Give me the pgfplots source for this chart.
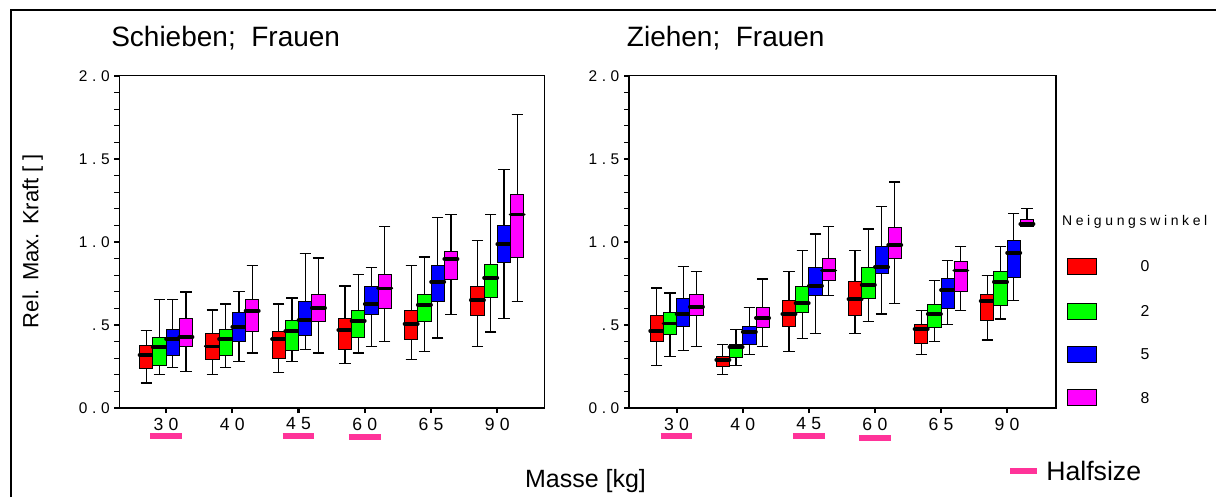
\documentclass[border=0pt]{standalone}
\usepackage{fontspec}
\setmainfont{Liberation Sans}
\newfontfamily\spfont[LetterSpace=30]{Liberation Sans}
\newfontfamily\lgfont[LetterSpace=26]{Liberation Sans}
\usepackage{pgfplots}
\usepackage{pgfplotstable}
\pgfplotsset{compat=1.18}
\usepgfplotslibrary{statistics}

\definecolor{cred}{RGB}{255,0,0}
\definecolor{cgreen}{RGB}{0,255,0}
\definecolor{cblue}{RGB}{0,0,255}
\definecolor{cmag}{RGB}{255,0,255}
\definecolor{hpink}{RGB}{255,51,153}

% ---------- Schieben; Frauen ----------
\pgfplotstableread{
lw lq med uq uw
0.150 0.237 0.319 0.375 0.465
0.201 0.293 0.371 0.451 0.590
0.213 0.301 0.415 0.463 0.626
0.269 0.351 0.469 0.540 0.734
0.293 0.413 0.507 0.590 0.858
0.371 0.556 0.648 0.734 1.009
}\SRed
\pgfplotstableread{
lw lq med uq uw
0.201 0.257 0.365 0.427 0.652
0.245 0.319 0.415 0.471 0.626
0.281 0.345 0.463 0.525 0.662
0.331 0.425 0.525 0.590 0.802
0.339 0.519 0.622 0.682 0.909
0.457 0.664 0.784 0.864 1.165
}\SGreen
\pgfplotstableread{
lw lq med uq uw
0.245 0.319 0.415 0.471 0.652
0.281 0.399 0.489 0.576 0.702
0.351 0.437 0.529 0.640 0.931
0.371 0.564 0.626 0.734 0.846
0.421 0.640 0.760 0.858 1.149
0.540 0.876 0.985 1.097 1.438
}\SBlue
\pgfplotstableread{
lw lq med uq uw
0.219 0.371 0.427 0.540 0.698
0.331 0.463 0.586 0.652 0.858
0.331 0.519 0.602 0.682 0.903
0.401 0.602 0.720 0.802 1.091
0.564 0.776 0.897 0.945 1.165
0.640 0.909 1.165 1.284 1.769
}\SMag

% ---------- Ziehen; Frauen ----------
\pgfplotstableread{
lw lq med uq uw
0.255 0.401 0.465 0.560 0.722
0.203 0.253 0.291 0.309 0.383
0.341 0.489 0.566 0.648 0.822
0.447 0.558 0.654 0.760 0.949
0.321 0.389 0.475 0.503 0.586
0.409 0.527 0.644 0.684 0.796
}\ZRed
\pgfplotstableread{
lw lq med uq uw
0.311 0.445 0.509 0.578 0.692
0.255 0.305 0.367 0.381 0.471
0.417 0.578 0.630 0.734 0.949
0.521 0.660 0.742 0.848 1.077
0.401 0.483 0.566 0.626 0.766
0.536 0.616 0.760 0.822 0.973
}\ZGreen
\pgfplotstableread{
lw lq med uq uw
0.347 0.489 0.566 0.658 0.854
0.321 0.383 0.459 0.489 0.604
0.447 0.678 0.736 0.848 1.047
0.566 0.808 0.848 0.973 1.211
0.503 0.602 0.710 0.778 0.890
0.648 0.784 0.935 1.011 1.173
}\ZBlue
\pgfplotstableread{
lw lq med uq uw
0.371 0.558 0.610 0.684 0.822
0.371 0.483 0.542 0.608 0.776
0.678 0.766 0.828 0.903 1.091
0.628 0.899 0.981 1.085 1.360
0.586 0.704 0.828 0.884 0.973
1.095 1.095 1.107 1.137 1.202
}\ZMag

\newcommand{\boxes}[3]{%
  \pgfplotsinvokeforeach{0,...,5}{
    \pgfplotstablegetelem{##1}{lw}\of#1\let\vlw\pgfplotsretval
    \pgfplotstablegetelem{##1}{lq}\of#1\let\vlq\pgfplotsretval
    \pgfplotstablegetelem{##1}{med}\of#1\let\vmed\pgfplotsretval
    \pgfplotstablegetelem{##1}{uq}\of#1\let\vuq\pgfplotsretval
    \pgfplotstablegetelem{##1}{uw}\of#1\let\vuw\pgfplotsretval
    \edef\doplot{\noexpand\addplot[fill=#3, draw=black, line width=0.6pt,
      boxplot prepared={draw position=##1+#2, lower whisker=\vlw,
        lower quartile=\vlq, median=\vmed, upper quartile=\vuq,
        upper whisker=\vuw, box extend=0.2, whisker extend=0.17,
        draw direction=y}]
      coordinates {};}
    \doplot
  }%
}

\pgfplotsset{
  panel/.style={
    scale only axis, height=249.2pt, anchor=south west,
    ymin=0, ymax=2,
    ytick={0,0.5,1,1.5,2}, yticklabels={0.0,.5,1.0,1.5,2.0},
    minor y tick num=4,
    xtick={0,...,5}, xticklabels={30,40,45,60,65,90},
    tick pos=left, tick align=outside,
    major tick length=3.75pt, minor tick length=3.75pt,
    major tick style={black, line width=1.6pt},
    minor tick style={black, line width=0.6pt},
    axis line style={line width=0.9pt},
    clip=false,
    /pgf/number format/assume math mode=true,
    yticklabel style={font=\spfont\fontsize{11.6}{14}\selectfont},
    xticklabel style={font=\spfont\fontsize{13.2}{16}\selectfont},
    boxplot/draw/median/.code={%
      \draw[black, line width=2.8pt, line cap=round]
        (boxplot box cs:\pgfplotsboxplotvalue{median},0) --
        (boxplot box cs:\pgfplotsboxplotvalue{median},1);},
    boxplot/every whisker/.style={black, line width=0.9pt},
  }
}

\begin{document}
\begin{tikzpicture}
\useasboundingbox (0,0) rectangle (912pt,372.75pt);
\draw[line width=1.5pt] (8.25pt,0) -- (8.25pt,365.25pt) -- (912pt,365.25pt);

\begin{axis}[panel, at={(89.5pt,66.75pt)}, width=318.75pt, xmin=-0.705, xmax=5.71]
  \boxes{\SRed}{-0.3}{cred}
  \boxes{\SGreen}{-0.1}{cgreen}
  \boxes{\SBlue}{0.1}{cblue}
  \boxes{\SMag}{0.3}{cmag}
  \addplot[hpink, line width=4.5pt, forget plot] coordinates {(-0.24,-0.17) (0.24,-0.17)};
  \addplot[hpink, line width=4.5pt, forget plot] coordinates {(1.76,-0.17) (2.24,-0.17)};
  \addplot[hpink, line width=4.5pt, forget plot] coordinates {(2.76,-0.175) (3.24,-0.175)};
\end{axis}

\begin{axis}[panel, at={(471.75pt,66.75pt)}, width=320.25pt, xmin=-0.72, xmax=5.74]
  \boxes{\ZRed}{-0.3}{cred}
  \boxes{\ZGreen}{-0.1}{cgreen}
  \boxes{\ZBlue}{0.1}{cblue}
  \boxes{\ZMag}{0.3}{cmag}
  \addplot[hpink, line width=4.5pt, forget plot] coordinates {(-0.24,-0.17) (0.24,-0.17)};
  \addplot[hpink, line width=4.5pt, forget plot] coordinates {(1.76,-0.17) (2.24,-0.17)};
  \addplot[hpink, line width=4.5pt, forget plot] coordinates {(2.76,-0.18) (3.24,-0.18)};
\end{axis}

\node[anchor=base west, inner sep=0, font=\fontsize{21}{25}\selectfont] at (83.25pt,337.5pt) {Schieben;\ \ Frauen};
\node[anchor=base west, inner sep=0, font=\fontsize{21}{25}\selectfont] at (470pt,337.5pt) {Ziehen;\ \ Frauen};
\node[rotate=90, anchor=base, inner sep=0, font=\fontsize{16.5}{20}\selectfont] at (28.7pt,192pt) {Rel. Max. Kraft [ ]};
\node[anchor=base, inner sep=0, font=\fontsize{18.75}{22}\selectfont] at (439.1pt,7.3pt) {Masse [kg]};

% legend
\node[anchor=base west, inner sep=0, font=\lgfont\fontsize{10.5}{13}\selectfont] at (796.3pt,204pt) {Neigungswinkel};
\foreach \c/\t/\y in {cred/0/173.0, cgreen/2/139.35, cblue/5/107.1, cmag/8/74.4}{
  \node[fill=\c, draw=black, line width=0.5pt, minimum width=21.75pt, minimum height=12pt, inner sep=0] at (811.3pt,\y pt) {};
  \node[inner sep=0, font=\fontsize{11.85}{14}\selectfont] at (858.75pt,\y pt) {\t};
}
\draw[hpink, line width=4.5pt] (757.5pt,19.5pt) -- (777.5pt,19.5pt);
\node[anchor=base west, inner sep=0, font=\fontsize{20}{24}\selectfont] at (784.5pt,12.75pt) {Halfsize};
\end{tikzpicture}
\end{document}
